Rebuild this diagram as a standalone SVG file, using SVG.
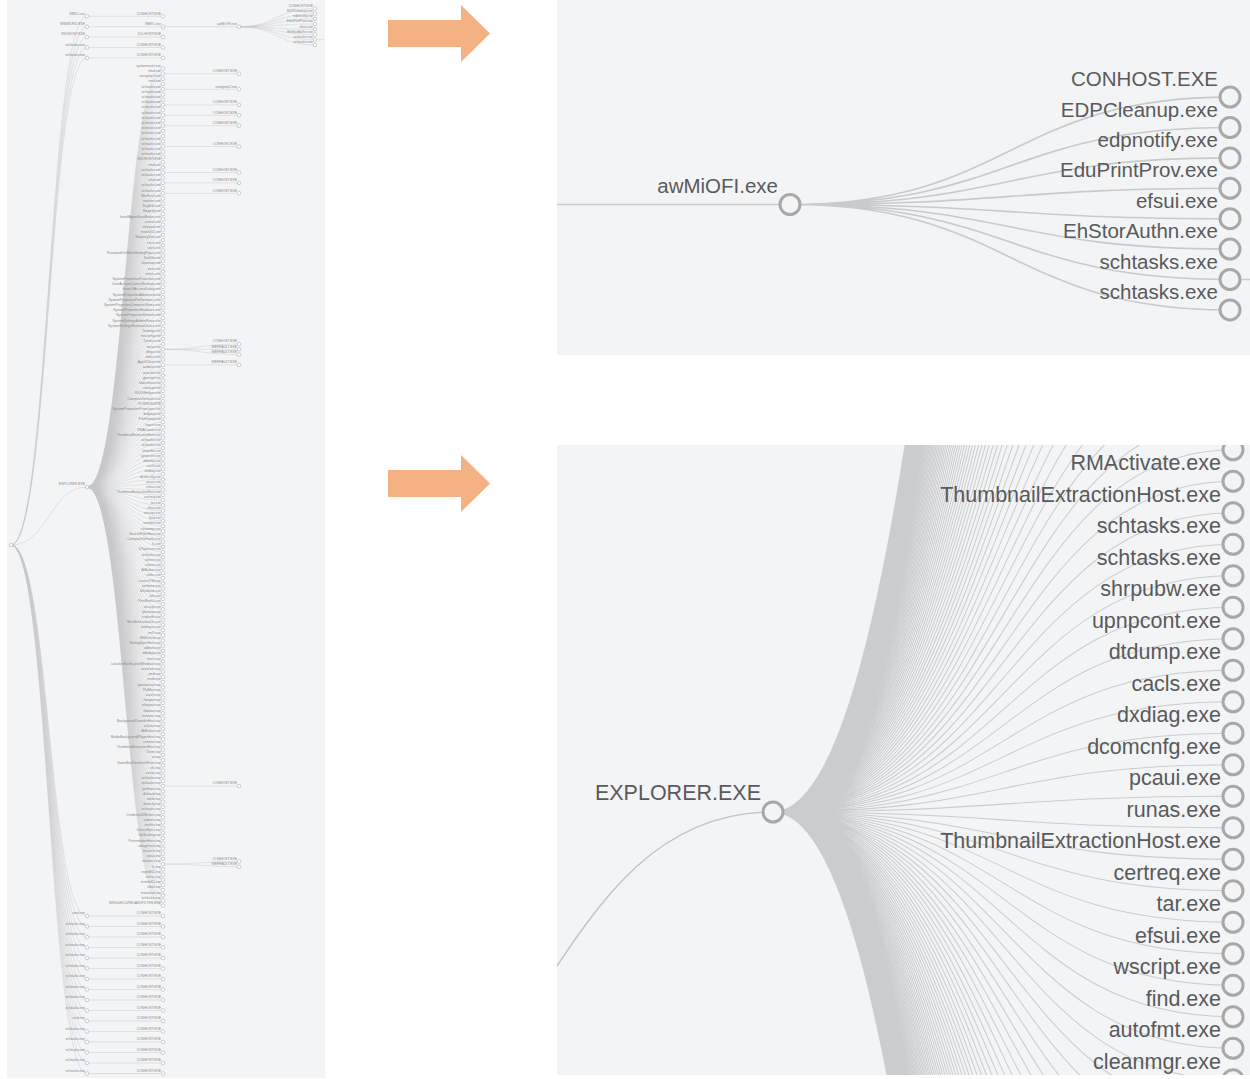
<svg xmlns="http://www.w3.org/2000/svg" xmlns:xlink="http://www.w3.org/1999/xlink" width="1250" height="1079" viewBox="0 0 1250 1079">
<style>
.bg{fill:#f3f4f6}
.lk{fill:none;stroke:#c6c8ca;stroke-width:.45}
.lkI{fill:none;stroke:#b4b6b8}
.n circle{fill:#fff;stroke:#999;stroke-width:.45}
.n text{font-family:"Liberation Sans",Arial,sans-serif;font-size:3.4px;fill:#888;text-anchor:end}
.N circle{fill:#f3f4f6;stroke:#a8a8a8;stroke-width:3}
.N text{font-family:"Liberation Sans",Arial,sans-serif;font-size:20.5px;fill:#5a5a5a;text-anchor:end}
.N2 text{font-size:21.5px}
.ar{fill:#f4b183}
</style>
<defs>
<clipPath id="c1"><rect x="557" y="0" width="693" height="355"/></clipPath>
<clipPath id="c2"><rect x="557" y="445" width="693" height="630"/></clipPath>
<path id="fanR" d="M11,545C49,545 49,16.3 87,16.3M11,545C49,545 49,26.7 87,26.7M11,545C49,545 49,37.1 87,37.1M11,545C49,545 49,47.5 87,47.5M11,545C49,545 49,57.9 87,57.9M11,545C49,545 49,487.1 87,487.1M11,545C49,545 49,916 87,916M11,545C49,545 49,926.5 87,926.5M11,545C49,545 49,937 87,937M11,545C49,545 49,947.5 87,947.5M11,545C49,545 49,958 87,958M11,545C49,545 49,968.5 87,968.5M11,545C49,545 49,979 87,979M11,545C49,545 49,989.5 87,989.5M11,545C49,545 49,1000 87,1000M11,545C49,545 49,1010.5 87,1010.5M11,545C49,545 49,1021 87,1021M11,545C49,545 49,1031.5 87,1031.5M11,545C49,545 49,1042 87,1042M11,545C49,545 49,1052.5 87,1052.5M11,545C49,545 49,1063 87,1063M11,545C49,545 49,1073.5 87,1073.5"/>
<path id="fanE" d="M87,487.1C125,487.1 125,68.5 163,68.5M87,487.1C125,487.1 125,73.7 163,73.7M87,487.1C125,487.1 125,78.9 163,78.9M87,487.1C125,487.1 125,84.1 163,84.1M87,487.1C125,487.1 125,89.3 163,89.3M87,487.1C125,487.1 125,94.5 163,94.5M87,487.1C125,487.1 125,99.7 163,99.7M87,487.1C125,487.1 125,104.9 163,104.9M87,487.1C125,487.1 125,110.1 163,110.1M87,487.1C125,487.1 125,115.3 163,115.3M87,487.1C125,487.1 125,120.5 163,120.5M87,487.1C125,487.1 125,125.7 163,125.7M87,487.1C125,487.1 125,130.9 163,130.9M87,487.1C125,487.1 125,136.1 163,136.1M87,487.1C125,487.1 125,141.3 163,141.3M87,487.1C125,487.1 125,146.5 163,146.5M87,487.1C125,487.1 125,151.7 163,151.7M87,487.1C125,487.1 125,156.9 163,156.9M87,487.1C125,487.1 125,162.1 163,162.1M87,487.1C125,487.1 125,167.3 163,167.3M87,487.1C125,487.1 125,172.5 163,172.5M87,487.1C125,487.1 125,177.7 163,177.7M87,487.1C125,487.1 125,182.9 163,182.9M87,487.1C125,487.1 125,188.1 163,188.1M87,487.1C125,487.1 125,193.3 163,193.3M87,487.1C125,487.1 125,198.5 163,198.5M87,487.1C125,487.1 125,203.7 163,203.7M87,487.1C125,487.1 125,208.9 163,208.9M87,487.1C125,487.1 125,214.1 163,214.1M87,487.1C125,487.1 125,219.3 163,219.3M87,487.1C125,487.1 125,224.5 163,224.5M87,487.1C125,487.1 125,229.7 163,229.7M87,487.1C125,487.1 125,234.9 163,234.9M87,487.1C125,487.1 125,240.1 163,240.1M87,487.1C125,487.1 125,245.3 163,245.3M87,487.1C125,487.1 125,250.5 163,250.5M87,487.1C125,487.1 125,255.7 163,255.7M87,487.1C125,487.1 125,260.9 163,260.9M87,487.1C125,487.1 125,266.1 163,266.1M87,487.1C125,487.1 125,271.3 163,271.3M87,487.1C125,487.1 125,276.5 163,276.5M87,487.1C125,487.1 125,281.7 163,281.7M87,487.1C125,487.1 125,286.9 163,286.9M87,487.1C125,487.1 125,292.1 163,292.1M87,487.1C125,487.1 125,297.3 163,297.3M87,487.1C125,487.1 125,302.5 163,302.5M87,487.1C125,487.1 125,307.7 163,307.7M87,487.1C125,487.1 125,312.9 163,312.9M87,487.1C125,487.1 125,318.1 163,318.1M87,487.1C125,487.1 125,323.3 163,323.3M87,487.1C125,487.1 125,328.5 163,328.5M87,487.1C125,487.1 125,333.7 163,333.7M87,487.1C125,487.1 125,338.9 163,338.9M87,487.1C125,487.1 125,344.1 163,344.1M87,487.1C125,487.1 125,349.3 163,349.3M87,487.1C125,487.1 125,354.5 163,354.5M87,487.1C125,487.1 125,359.7 163,359.7M87,487.1C125,487.1 125,364.9 163,364.9M87,487.1C125,487.1 125,370.1 163,370.1M87,487.1C125,487.1 125,375.3 163,375.3M87,487.1C125,487.1 125,380.5 163,380.5M87,487.1C125,487.1 125,385.7 163,385.7M87,487.1C125,487.1 125,390.9 163,390.9M87,487.1C125,487.1 125,396.1 163,396.1M87,487.1C125,487.1 125,401.3 163,401.3M87,487.1C125,487.1 125,406.5 163,406.5M87,487.1C125,487.1 125,411.7 163,411.7M87,487.1C125,487.1 125,416.9 163,416.9M87,487.1C125,487.1 125,422.1 163,422.1M87,487.1C125,487.1 125,427.3 163,427.3M87,487.1C125,487.1 125,432.5 163,432.5M87,487.1C125,487.1 125,437.7 163,437.7M87,487.1C125,487.1 125,442.9 163,442.9M87,487.1C125,487.1 125,448.1 163,448.1M87,487.1C125,487.1 125,453.3 163,453.3M87,487.1C125,487.1 125,458.5 163,458.5M87,487.1C125,487.1 125,463.7 163,463.7M87,487.1C125,487.1 125,468.9 163,468.9M87,487.1C125,487.1 125,474.1 163,474.1M87,487.1C125,487.1 125,479.3 163,479.3M87,487.1C125,487.1 125,484.5 163,484.5M87,487.1C125,487.1 125,489.7 163,489.7M87,487.1C125,487.1 125,494.9 163,494.9M87,487.1C125,487.1 125,500.1 163,500.1M87,487.1C125,487.1 125,505.3 163,505.3M87,487.1C125,487.1 125,510.5 163,510.5M87,487.1C125,487.1 125,515.7 163,515.7M87,487.1C125,487.1 125,520.9 163,520.9M87,487.1C125,487.1 125,526.1 163,526.1M87,487.1C125,487.1 125,531.3 163,531.3M87,487.1C125,487.1 125,536.5 163,536.5M87,487.1C125,487.1 125,541.7 163,541.7M87,487.1C125,487.1 125,546.9 163,546.9M87,487.1C125,487.1 125,552.1 163,552.1M87,487.1C125,487.1 125,557.3 163,557.3M87,487.1C125,487.1 125,562.5 163,562.5M87,487.1C125,487.1 125,567.7 163,567.7M87,487.1C125,487.1 125,572.9 163,572.9M87,487.1C125,487.1 125,578.1 163,578.1M87,487.1C125,487.1 125,583.3 163,583.3M87,487.1C125,487.1 125,588.5 163,588.5M87,487.1C125,487.1 125,593.7 163,593.7M87,487.1C125,487.1 125,598.9 163,598.9M87,487.1C125,487.1 125,604.1 163,604.1M87,487.1C125,487.1 125,609.3 163,609.3M87,487.1C125,487.1 125,614.5 163,614.5M87,487.1C125,487.1 125,619.7 163,619.7M87,487.1C125,487.1 125,624.9 163,624.9M87,487.1C125,487.1 125,630.1 163,630.1M87,487.1C125,487.1 125,635.3 163,635.3M87,487.1C125,487.1 125,640.5 163,640.5M87,487.1C125,487.1 125,645.7 163,645.7M87,487.1C125,487.1 125,650.9 163,650.9M87,487.1C125,487.1 125,656.1 163,656.1M87,487.1C125,487.1 125,661.3 163,661.3M87,487.1C125,487.1 125,666.5 163,666.5M87,487.1C125,487.1 125,671.7 163,671.7M87,487.1C125,487.1 125,676.9 163,676.9M87,487.1C125,487.1 125,682.1 163,682.1M87,487.1C125,487.1 125,687.3 163,687.3M87,487.1C125,487.1 125,692.5 163,692.5M87,487.1C125,487.1 125,697.7 163,697.7M87,487.1C125,487.1 125,702.9 163,702.9M87,487.1C125,487.1 125,708.1 163,708.1M87,487.1C125,487.1 125,713.3 163,713.3M87,487.1C125,487.1 125,718.5 163,718.5M87,487.1C125,487.1 125,723.7 163,723.7M87,487.1C125,487.1 125,728.9 163,728.9M87,487.1C125,487.1 125,734.1 163,734.1M87,487.1C125,487.1 125,739.3 163,739.3M87,487.1C125,487.1 125,744.5 163,744.5M87,487.1C125,487.1 125,749.7 163,749.7M87,487.1C125,487.1 125,754.9 163,754.9M87,487.1C125,487.1 125,760.1 163,760.1M87,487.1C125,487.1 125,765.3 163,765.3M87,487.1C125,487.1 125,770.5 163,770.5M87,487.1C125,487.1 125,775.7 163,775.7M87,487.1C125,487.1 125,780.9 163,780.9M87,487.1C125,487.1 125,786.1 163,786.1M87,487.1C125,487.1 125,791.3 163,791.3M87,487.1C125,487.1 125,796.5 163,796.5M87,487.1C125,487.1 125,801.7 163,801.7M87,487.1C125,487.1 125,806.9 163,806.9M87,487.1C125,487.1 125,812.1 163,812.1M87,487.1C125,487.1 125,817.3 163,817.3M87,487.1C125,487.1 125,822.5 163,822.5M87,487.1C125,487.1 125,827.7 163,827.7M87,487.1C125,487.1 125,832.9 163,832.9M87,487.1C125,487.1 125,838.1 163,838.1M87,487.1C125,487.1 125,843.3 163,843.3M87,487.1C125,487.1 125,848.5 163,848.5M87,487.1C125,487.1 125,853.7 163,853.7M87,487.1C125,487.1 125,858.9 163,858.9M87,487.1C125,487.1 125,864.1 163,864.1M87,487.1C125,487.1 125,869.3 163,869.3M87,487.1C125,487.1 125,874.5 163,874.5M87,487.1C125,487.1 125,879.7 163,879.7M87,487.1C125,487.1 125,884.9 163,884.9M87,487.1C125,487.1 125,890.1 163,890.1M87,487.1C125,487.1 125,895.3 163,895.3M87,487.1C125,487.1 125,900.5 163,900.5M87,487.1C125,487.1 125,905.7 163,905.7"/>
</defs>

<rect width="1250" height="1079" fill="#fff"/>

<g id="left-panel">
<rect class="bg" x="7" y="0" width="318" height="1078"/>
<g id="connectors" class="lk">
<use xlink:href="#fanR"/>
<use xlink:href="#fanE"/>
<path d="M87,16.3H163M87,26.7H239M87,37.1H163M87,47.5H163M87,57.9H163M87,916H163M87,926.5H163M87,937H163M87,947.5H163M87,958H163M87,968.5H163M87,979H163M87,989.5H163M87,1000H163M87,1010.5H163M87,1021H163M87,1031.5H163M87,1042H163M87,1052.5H163M87,1063H163M87,1073.5H163"/>
<path d="M239,26.7C277,26.7 277,8.5 315,8.5M239,26.7C277,26.7 277,13.7 315,13.7M239,26.7C277,26.7 277,18.9 315,18.9M239,26.7C277,26.7 277,24.1 315,24.1M239,26.7C277,26.7 277,29.3 315,29.3M239,26.7C277,26.7 277,34.5 315,34.5M239,26.7C277,26.7 277,39.7 315,39.7M239,26.7C277,26.7 277,44.9 315,44.9M315,39.7H325"/>
<path d="M163,73.7H239M163,89.3H239M163,104.9H239M163,115.3H239M163,125.7H239M163,146.5H239M163,172.5H239M163,182.9H239M163,193.3H239M163,349.3C201,349.3 201,344.1 239,344.1M163,349.3H239M163,349.3C201,349.3 201,354.5 239,354.5M163,364.9H239M163,786.1H239M163,864.1C201,864.1 201,861.5 239,861.5M163,864.1C201,864.1 201,866.7 239,866.7"/>
</g>

<g id="root" class="n"><circle cx="11" cy="545" r="1.8"/></g>
<g id="t1" class="n"><circle cx="87" cy="16.3" r="1.8"/><text x="85" y="14.5">WMIC.exe</text></g>
<g id="t2" class="n"><circle cx="87" cy="26.7" r="1.8"/><text x="85" y="24.9">WINWORD.EXE</text></g>
<g id="t3" class="n"><circle cx="87" cy="37.1" r="1.8"/><text x="85" y="35.3">SVCHOST.EXE</text></g>
<g id="t4" class="n"><circle cx="87" cy="47.5" r="1.8"/><text x="85" y="45.7">schtasks.exe</text></g>
<g id="t5" class="n"><circle cx="87" cy="57.9" r="1.8"/><text x="85" y="56.1">schtasks.exe</text></g>
<g id="t1c" class="n"><circle cx="163" cy="16.3" r="1.8"/><text x="161" y="14.5">CONHOST.EXE</text></g>
<g id="t2c" class="n"><circle cx="163" cy="26.7" r="1.8"/><text x="161" y="24.9">WMIC.exe</text></g>
<g id="t3c" class="n"><circle cx="163" cy="37.1" r="1.8"/><text x="161" y="35.3">DLLHOST.EXE</text></g>
<g id="t4c" class="n"><circle cx="163" cy="47.5" r="1.8"/><text x="161" y="45.7">CONHOST.EXE</text></g>
<g id="t5c" class="n"><circle cx="163" cy="57.9" r="1.8"/><text x="161" y="56.1">CONHOST.EXE</text></g>
<g id="awmiofi" class="n"><circle cx="239" cy="26.7" r="1.8"/><text x="237" y="24.9">awMiOFI.exe</text></g>
<g id="aw0" class="n"><circle cx="315" cy="8.5" r="1.8"/><text x="313" y="6.7">CONHOST.EXE</text></g>
<g id="aw1" class="n"><circle cx="315" cy="13.7" r="1.8"/><text x="313" y="11.9">EDPCleanup.exe</text></g>
<g id="aw2" class="n"><circle cx="315" cy="18.9" r="1.8"/><text x="313" y="17.1">edpnotify.exe</text></g>
<g id="aw3" class="n"><circle cx="315" cy="24.1" r="1.8"/><text x="313" y="22.3">EduPrintProv.exe</text></g>
<g id="aw4" class="n"><circle cx="315" cy="29.3" r="1.8"/><text x="313" y="27.5">efsui.exe</text></g>
<g id="aw5" class="n"><circle cx="315" cy="34.5" r="1.8"/><text x="313" y="32.7">EhStorAuthn.exe</text></g>
<g id="aw6" class="n"><circle cx="315" cy="39.7" r="1.8"/><text x="313" y="37.9">schtasks.exe</text></g>
<g id="aw7" class="n"><circle cx="315" cy="44.9" r="1.8"/><text x="313" y="43.1">schtasks.exe</text></g>

<g id="explorer" class="n"><circle cx="87" cy="487.1" r="1.8"/><text x="85" y="484.6">EXPLORER.EXE</text></g>
<g id="e0" class="n"><circle cx="163" cy="68.5" r="1.8"/><text x="161" y="66.7">systemreset.exe</text></g>
<g id="e1" class="n"><circle cx="163" cy="73.7" r="1.8"/><text x="161" y="71.9">cmd.exe</text></g>
<g id="e2" class="n"><circle cx="163" cy="78.9" r="1.8"/><text x="161" y="77.1">unregmp2.exe</text></g>
<g id="e3" class="n"><circle cx="163" cy="84.1" r="1.8"/><text x="161" y="82.3">cmd.exe</text></g>
<g id="e4" class="n"><circle cx="163" cy="89.3" r="1.8"/><text x="161" y="87.5">schtasks.exe</text></g>
<g id="e5" class="n"><circle cx="163" cy="94.5" r="1.8"/><text x="161" y="92.7">schtasks.exe</text></g>
<g id="e6" class="n"><circle cx="163" cy="99.7" r="1.8"/><text x="161" y="97.9">schtasks.exe</text></g>
<g id="e7" class="n"><circle cx="163" cy="104.9" r="1.8"/><text x="161" y="103.1">schtasks.exe</text></g>
<g id="e8" class="n"><circle cx="163" cy="110.1" r="1.8"/><text x="161" y="108.3">schtasks.exe</text></g>
<g id="e9" class="n"><circle cx="163" cy="115.3" r="1.8"/><text x="161" y="113.5">schtasks.exe</text></g>
<g id="e10" class="n"><circle cx="163" cy="120.5" r="1.8"/><text x="161" y="118.7">schtasks.exe</text></g>
<g id="e11" class="n"><circle cx="163" cy="125.7" r="1.8"/><text x="161" y="123.9">schtasks.exe</text></g>
<g id="e12" class="n"><circle cx="163" cy="130.9" r="1.8"/><text x="161" y="129.1">schtasks.exe</text></g>
<g id="e13" class="n"><circle cx="163" cy="136.1" r="1.8"/><text x="161" y="134.3">schtasks.exe</text></g>
<g id="e14" class="n"><circle cx="163" cy="141.3" r="1.8"/><text x="161" y="139.5">schtasks.exe</text></g>
<g id="e15" class="n"><circle cx="163" cy="146.5" r="1.8"/><text x="161" y="144.7">schtasks.exe</text></g>
<g id="e16" class="n"><circle cx="163" cy="151.7" r="1.8"/><text x="161" y="149.9">schtasks.exe</text></g>
<g id="e17" class="n"><circle cx="163" cy="156.9" r="1.8"/><text x="161" y="155.1">schtasks.exe</text></g>
<g id="e18" class="n"><circle cx="163" cy="162.1" r="1.8"/><text x="161" y="160.3">SVCHOST.EXE</text></g>
<g id="e19" class="n"><circle cx="163" cy="167.3" r="1.8"/><text x="161" y="165.5">cmd.exe</text></g>
<g id="e20" class="n"><circle cx="163" cy="172.5" r="1.8"/><text x="161" y="170.7">schtasks.exe</text></g>
<g id="e21" class="n"><circle cx="163" cy="177.7" r="1.8"/><text x="161" y="175.9">schtasks.exe</text></g>
<g id="e22" class="n"><circle cx="163" cy="182.9" r="1.8"/><text x="161" y="181.1">cmd.exe</text></g>
<g id="e23" class="n"><circle cx="163" cy="188.1" r="1.8"/><text x="161" y="186.3">schtasks.exe</text></g>
<g id="e24" class="n"><circle cx="163" cy="193.3" r="1.8"/><text x="161" y="191.5">schtasks.exe</text></g>
<g id="e25" class="n"><circle cx="163" cy="198.5" r="1.8"/><text x="161" y="196.7">WerFault.exe</text></g>
<g id="e26" class="n"><circle cx="163" cy="203.7" r="1.8"/><text x="161" y="201.9">iexplore.exe</text></g>
<g id="e27" class="n"><circle cx="163" cy="208.9" r="1.8"/><text x="161" y="207.1">RegEdit.exe</text></g>
<g id="e28" class="n"><circle cx="163" cy="214.1" r="1.8"/><text x="161" y="212.3">Magnify.exe</text></g>
<g id="e29" class="n"><circle cx="163" cy="219.3" r="1.8"/><text x="161" y="217.5">InstallAgentUserBroker.exe</text></g>
<g id="e30" class="n"><circle cx="163" cy="224.5" r="1.8"/><text x="161" y="222.7">control.exe</text></g>
<g id="e31" class="n"><circle cx="163" cy="229.7" r="1.8"/><text x="161" y="227.9">notepad.exe</text></g>
<g id="e32" class="n"><circle cx="163" cy="234.9" r="1.8"/><text x="161" y="233.1">msinfo32.exe</text></g>
<g id="e33" class="n"><circle cx="163" cy="240.1" r="1.8"/><text x="161" y="238.3">SnippingTool.exe</text></g>
<g id="e34" class="n"><circle cx="163" cy="245.3" r="1.8"/><text x="161" y="243.5">rstrui.exe</text></g>
<g id="e35" class="n"><circle cx="163" cy="250.5" r="1.8"/><text x="161" y="248.7">sdclt.exe</text></g>
<g id="e36" class="n"><circle cx="163" cy="255.7" r="1.8"/><text x="161" y="253.9">PasswordOnWakeSettingFlyout.exe</text></g>
<g id="e37" class="n"><circle cx="163" cy="260.9" r="1.8"/><text x="161" y="259.1">SndVol.exe</text></g>
<g id="e38" class="n"><circle cx="163" cy="266.1" r="1.8"/><text x="161" y="264.3">charmap.exe</text></g>
<g id="e39" class="n"><circle cx="163" cy="271.3" r="1.8"/><text x="161" y="269.5">write.exe</text></g>
<g id="e40" class="n"><circle cx="163" cy="276.5" r="1.8"/><text x="161" y="274.7">mstsc.exe</text></g>
<g id="e41" class="n"><circle cx="163" cy="281.7" r="1.8"/><text x="161" y="279.9">SystemPropertiesProtection.exe</text></g>
<g id="e42" class="n"><circle cx="163" cy="286.9" r="1.8"/><text x="161" y="285.1">UserAccountControlSettings.exe</text></g>
<g id="e43" class="n"><circle cx="163" cy="292.1" r="1.8"/><text x="161" y="290.3">EaseOfAccessDialog.exe</text></g>
<g id="e44" class="n"><circle cx="163" cy="297.3" r="1.8"/><text x="161" y="295.5">SystemPropertiesAdvanced.exe</text></g>
<g id="e45" class="n"><circle cx="163" cy="302.5" r="1.8"/><text x="161" y="300.7">SystemPropertiesPerformance.exe</text></g>
<g id="e46" class="n"><circle cx="163" cy="307.7" r="1.8"/><text x="161" y="305.9">SystemPropertiesComputerName.exe</text></g>
<g id="e47" class="n"><circle cx="163" cy="312.9" r="1.8"/><text x="161" y="311.1">SystemPropertiesHardware.exe</text></g>
<g id="e48" class="n"><circle cx="163" cy="318.1" r="1.8"/><text x="161" y="316.3">SystemPropertiesRemote.exe</text></g>
<g id="e49" class="n"><circle cx="163" cy="323.3" r="1.8"/><text x="161" y="321.5">SystemSettingsAdminFlows.exe</text></g>
<g id="e50" class="n"><circle cx="163" cy="328.5" r="1.8"/><text x="161" y="326.7">SystemSettingsRemoveDevice.exe</text></g>
<g id="e51" class="n"><circle cx="163" cy="333.7" r="1.8"/><text x="161" y="331.9">Taskmgr.exe</text></g>
<g id="e52" class="n"><circle cx="163" cy="338.9" r="1.8"/><text x="161" y="337.1">msconfig.exe</text></g>
<g id="e53" class="n"><circle cx="163" cy="344.1" r="1.8"/><text x="161" y="342.3">TpmInit.exe</text></g>
<g id="e54" class="n"><circle cx="163" cy="349.3" r="1.8"/><text x="161" y="347.5">wusa.exe</text></g>
<g id="e55" class="n"><circle cx="163" cy="354.5" r="1.8"/><text x="161" y="352.7">dfrgui.exe</text></g>
<g id="e56" class="n"><circle cx="163" cy="359.7" r="1.8"/><text x="161" y="357.9">mblctr.exe</text></g>
<g id="e57" class="n"><circle cx="163" cy="364.9" r="1.8"/><text x="161" y="363.1">AppVClient.exe</text></g>
<g id="e58" class="n"><circle cx="163" cy="370.1" r="1.8"/><text x="161" y="368.3">auditpol.exe</text></g>
<g id="e59" class="n"><circle cx="163" cy="375.3" r="1.8"/><text x="161" y="373.5">autochk.exe</text></g>
<g id="e60" class="n"><circle cx="163" cy="380.5" r="1.8"/><text x="161" y="378.7">gpscript.exe</text></g>
<g id="e61" class="n"><circle cx="163" cy="385.7" r="1.8"/><text x="161" y="383.9">bdeunlock.exe</text></g>
<g id="e62" class="n"><circle cx="163" cy="390.9" r="1.8"/><text x="161" y="389.1">colorcpl.exe</text></g>
<g id="e63" class="n"><circle cx="163" cy="396.1" r="1.8"/><text x="161" y="394.3">RDVGHelper.exe</text></g>
<g id="e64" class="n"><circle cx="163" cy="401.3" r="1.8"/><text x="161" y="399.5">ComputerDefaults.exe</text></g>
<g id="e65" class="n"><circle cx="163" cy="406.5" r="1.8"/><text x="161" y="404.7">PCWRUN.EXE</text></g>
<g id="e66" class="n"><circle cx="163" cy="411.7" r="1.8"/><text x="161" y="409.9">SystemPropertiesProtection.exe</text></g>
<g id="e67" class="n"><circle cx="163" cy="416.9" r="1.8"/><text x="161" y="415.1">dvdplay.exe</text></g>
<g id="e68" class="n"><circle cx="163" cy="422.1" r="1.8"/><text x="161" y="420.3">FileHistory.exe</text></g>
<g id="e69" class="n"><circle cx="163" cy="427.3" r="1.8"/><text x="161" y="425.5">fsquirt.exe</text></g>
<g id="e70" class="n"><circle cx="163" cy="432.5" r="1.8"/><text x="161" y="430.7">RMActivate.exe</text></g>
<g id="e71" class="n"><circle cx="163" cy="437.7" r="1.8"/><text x="161" y="435.9">ThumbnailExtractionHost.exe</text></g>
<g id="e72" class="n"><circle cx="163" cy="442.9" r="1.8"/><text x="161" y="441.1">schtasks.exe</text></g>
<g id="e73" class="n"><circle cx="163" cy="448.1" r="1.8"/><text x="161" y="446.3">schtasks.exe</text></g>
<g id="e74" class="n"><circle cx="163" cy="453.3" r="1.8"/><text x="161" y="451.5">shrpubw.exe</text></g>
<g id="e75" class="n"><circle cx="163" cy="458.5" r="1.8"/><text x="161" y="456.7">upnpcont.exe</text></g>
<g id="e76" class="n"><circle cx="163" cy="463.7" r="1.8"/><text x="161" y="461.9">dtdump.exe</text></g>
<g id="e77" class="n"><circle cx="163" cy="468.9" r="1.8"/><text x="161" y="467.1">cacls.exe</text></g>
<g id="e78" class="n"><circle cx="163" cy="474.1" r="1.8"/><text x="161" y="472.3">dxdiag.exe</text></g>
<g id="e79" class="n"><circle cx="163" cy="479.3" r="1.8"/><text x="161" y="477.5">dcomcnfg.exe</text></g>
<g id="e80" class="n"><circle cx="163" cy="484.5" r="1.8"/><text x="161" y="482.7">pcaui.exe</text></g>
<g id="e81" class="n"><circle cx="163" cy="489.7" r="1.8"/><text x="161" y="487.9">runas.exe</text></g>
<g id="e82" class="n"><circle cx="163" cy="494.9" r="1.8"/><text x="161" y="493.1">ThumbnailExtractionHost.exe</text></g>
<g id="e83" class="n"><circle cx="163" cy="500.1" r="1.8"/><text x="161" y="498.3">certreq.exe</text></g>
<g id="e84" class="n"><circle cx="163" cy="505.3" r="1.8"/><text x="161" y="503.5">tar.exe</text></g>
<g id="e85" class="n"><circle cx="163" cy="510.5" r="1.8"/><text x="161" y="508.7">efsui.exe</text></g>
<g id="e86" class="n"><circle cx="163" cy="515.7" r="1.8"/><text x="161" y="513.9">wscript.exe</text></g>
<g id="e87" class="n"><circle cx="163" cy="520.9" r="1.8"/><text x="161" y="519.1">find.exe</text></g>
<g id="e88" class="n"><circle cx="163" cy="526.1" r="1.8"/><text x="161" y="524.3">autofmt.exe</text></g>
<g id="e89" class="n"><circle cx="163" cy="531.3" r="1.8"/><text x="161" y="529.5">cleanmgr.exe</text></g>
<g id="e90" class="n"><circle cx="163" cy="536.5" r="1.8"/><text x="161" y="534.7">SearchFilterHost.exe</text></g>
<g id="e91" class="n"><circle cx="163" cy="541.7" r="1.8"/><text x="161" y="539.9">ComputerDefaults.exe</text></g>
<g id="e92" class="n"><circle cx="163" cy="546.9" r="1.8"/><text x="161" y="545.1">fc.exe</text></g>
<g id="e93" class="n"><circle cx="163" cy="552.1" r="1.8"/><text x="161" y="550.3">DXpserver.exe</text></g>
<g id="e94" class="n"><circle cx="163" cy="557.3" r="1.8"/><text x="161" y="555.5">schtasks.exe</text></g>
<g id="e95" class="n"><circle cx="163" cy="562.5" r="1.8"/><text x="161" y="560.7">winver.exe</text></g>
<g id="e96" class="n"><circle cx="163" cy="567.7" r="1.8"/><text x="161" y="565.9">cttune.exe</text></g>
<g id="e97" class="n"><circle cx="163" cy="572.9" r="1.8"/><text x="161" y="571.1">AtBroker.exe</text></g>
<g id="e98" class="n"><circle cx="163" cy="578.1" r="1.8"/><text x="161" y="576.3">sethc.exe</text></g>
<g id="e99" class="n"><circle cx="163" cy="583.3" r="1.8"/><text x="161" y="581.5">LaunchTM.exe</text></g>
<g id="e100" class="n"><circle cx="163" cy="588.5" r="1.8"/><text x="161" y="586.7">perfmon.exe</text></g>
<g id="e101" class="n"><circle cx="163" cy="593.7" r="1.8"/><text x="161" y="591.9">bthudtask.exe</text></g>
<g id="e102" class="n"><circle cx="163" cy="598.9" r="1.8"/><text x="161" y="597.1">wfs.exe</text></g>
<g id="e103" class="n"><circle cx="163" cy="604.1" r="1.8"/><text x="161" y="602.3">PrintBrmUi.exe</text></g>
<g id="e104" class="n"><circle cx="163" cy="609.3" r="1.8"/><text x="161" y="607.5">iscsicpl.exe</text></g>
<g id="e105" class="n"><circle cx="163" cy="614.5" r="1.8"/><text x="161" y="612.7">lpksetup.exe</text></g>
<g id="e106" class="n"><circle cx="163" cy="619.7" r="1.8"/><text x="161" y="617.9">eudcedit.exe</text></g>
<g id="e107" class="n"><circle cx="163" cy="624.9" r="1.8"/><text x="161" y="623.1">MusNotificationUx.exe</text></g>
<g id="e108" class="n"><circle cx="163" cy="630.1" r="1.8"/><text x="161" y="628.3">mobsync.exe</text></g>
<g id="e109" class="n"><circle cx="163" cy="635.3" r="1.8"/><text x="161" y="633.5">net1.exe</text></g>
<g id="e110" class="n"><circle cx="163" cy="640.5" r="1.8"/><text x="161" y="638.7">MdSched.exe</text></g>
<g id="e111" class="n"><circle cx="163" cy="645.7" r="1.8"/><text x="161" y="643.9">SettingSyncHost.exe</text></g>
<g id="e112" class="n"><circle cx="163" cy="650.9" r="1.8"/><text x="161" y="649.1">sdbinst.exe</text></g>
<g id="e113" class="n"><circle cx="163" cy="656.1" r="1.8"/><text x="161" y="654.3">ddodiag.exe</text></g>
<g id="e114" class="n"><circle cx="163" cy="661.3" r="1.8"/><text x="161" y="659.5">msra.exe</text></g>
<g id="e115" class="n"><circle cx="163" cy="666.5" r="1.8"/><text x="161" y="664.7">LocationNotificationWindows.exe</text></g>
<g id="e116" class="n"><circle cx="163" cy="671.7" r="1.8"/><text x="161" y="669.9">eventvwr.exe</text></g>
<g id="e117" class="n"><circle cx="163" cy="676.9" r="1.8"/><text x="161" y="675.1">cmd.exe</text></g>
<g id="e118" class="n"><circle cx="163" cy="682.1" r="1.8"/><text x="161" y="680.3">msdt.exe</text></g>
<g id="e119" class="n"><circle cx="163" cy="687.3" r="1.8"/><text x="161" y="685.5">quickassist.exe</text></g>
<g id="e120" class="n"><circle cx="163" cy="692.5" r="1.8"/><text x="161" y="690.7">PktMon.exe</text></g>
<g id="e121" class="n"><circle cx="163" cy="697.7" r="1.8"/><text x="161" y="695.9">icacls.exe</text></g>
<g id="e122" class="n"><circle cx="163" cy="702.9" r="1.8"/><text x="161" y="701.1">fsmgmt.exe</text></g>
<g id="e123" class="n"><circle cx="163" cy="708.1" r="1.8"/><text x="161" y="706.3">rekeywiz.exe</text></g>
<g id="e124" class="n"><circle cx="163" cy="713.3" r="1.8"/><text x="161" y="711.5">hdwwiz.exe</text></g>
<g id="e125" class="n"><circle cx="163" cy="718.5" r="1.8"/><text x="161" y="716.7">msiexec.exe</text></g>
<g id="e126" class="n"><circle cx="163" cy="723.7" r="1.8"/><text x="161" y="721.9">BackgroundTransferHost.exe</text></g>
<g id="e127" class="n"><circle cx="163" cy="728.9" r="1.8"/><text x="161" y="727.1">ie4uinit.exe</text></g>
<g id="e128" class="n"><circle cx="163" cy="734.1" r="1.8"/><text x="161" y="732.3">AtBroker.exe</text></g>
<g id="e129" class="n"><circle cx="163" cy="739.3" r="1.8"/><text x="161" y="737.5">MediaBackgroundPlayerHost.exe</text></g>
<g id="e130" class="n"><circle cx="163" cy="744.5" r="1.8"/><text x="161" y="742.7">resmon.exe</text></g>
<g id="e131" class="n"><circle cx="163" cy="749.7" r="1.8"/><text x="161" y="747.9">ThumbnailExtractionHost.exe</text></g>
<g id="e132" class="n"><circle cx="163" cy="754.9" r="1.8"/><text x="161" y="753.1">Dism.exe</text></g>
<g id="e133" class="n"><circle cx="163" cy="760.1" r="1.8"/><text x="161" y="758.3">at.exe</text></g>
<g id="e134" class="n"><circle cx="163" cy="765.3" r="1.8"/><text x="161" y="763.5">GameBarPresenceWriter.exe</text></g>
<g id="e135" class="n"><circle cx="163" cy="770.5" r="1.8"/><text x="161" y="768.7">sfc.exe</text></g>
<g id="e136" class="n"><circle cx="163" cy="775.7" r="1.8"/><text x="161" y="773.9">cmstp.exe</text></g>
<g id="e137" class="n"><circle cx="163" cy="780.9" r="1.8"/><text x="161" y="779.1">schtasks.exe</text></g>
<g id="e138" class="n"><circle cx="163" cy="786.1" r="1.8"/><text x="161" y="784.3">schtasks.exe</text></g>
<g id="e139" class="n"><circle cx="163" cy="791.3" r="1.8"/><text x="161" y="789.5">perfmon.exe</text></g>
<g id="e140" class="n"><circle cx="163" cy="796.5" r="1.8"/><text x="161" y="794.7">diskraid.exe</text></g>
<g id="e141" class="n"><circle cx="163" cy="801.7" r="1.8"/><text x="161" y="799.9">attrib.exe</text></g>
<g id="e142" class="n"><circle cx="163" cy="806.9" r="1.8"/><text x="161" y="805.1">bootcfg.exe</text></g>
<g id="e143" class="n"><circle cx="163" cy="812.1" r="1.8"/><text x="161" y="810.3">schtasks.exe</text></g>
<g id="e144" class="n"><circle cx="163" cy="817.3" r="1.8"/><text x="161" y="815.5">CredentialUIBroker.exe</text></g>
<g id="e145" class="n"><circle cx="163" cy="822.5" r="1.8"/><text x="161" y="820.7">isoburn.exe</text></g>
<g id="e146" class="n"><circle cx="163" cy="827.7" r="1.8"/><text x="161" y="825.9">verifier.exe</text></g>
<g id="e147" class="n"><circle cx="163" cy="832.9" r="1.8"/><text x="161" y="831.1">DeviceEject.exe</text></g>
<g id="e148" class="n"><circle cx="163" cy="838.1" r="1.8"/><text x="161" y="836.3">DpiScaling.exe</text></g>
<g id="e149" class="n"><circle cx="163" cy="843.3" r="1.8"/><text x="161" y="841.5">PresentationHost.exe</text></g>
<g id="e150" class="n"><circle cx="163" cy="848.5" r="1.8"/><text x="161" y="846.7">sdiagnhost.exe</text></g>
<g id="e151" class="n"><circle cx="163" cy="853.7" r="1.8"/><text x="161" y="851.9">wuauclt.exe</text></g>
<g id="e152" class="n"><circle cx="163" cy="858.9" r="1.8"/><text x="161" y="857.1">wusa.exe</text></g>
<g id="e153" class="n"><circle cx="163" cy="864.1" r="1.8"/><text x="161" y="862.3">wextract.exe</text></g>
<g id="e154" class="n"><circle cx="163" cy="869.3" r="1.8"/><text x="161" y="867.5">fc.exe</text></g>
<g id="e155" class="n"><circle cx="163" cy="874.5" r="1.8"/><text x="161" y="872.7">regedt32.exe</text></g>
<g id="e156" class="n"><circle cx="163" cy="879.7" r="1.8"/><text x="161" y="877.9">mstsc.exe</text></g>
<g id="e157" class="n"><circle cx="163" cy="884.9" r="1.8"/><text x="161" y="883.1">msinfo32.exe</text></g>
<g id="e158" class="n"><circle cx="163" cy="890.1" r="1.8"/><text x="161" y="888.3">label.exe</text></g>
<g id="e159" class="n"><circle cx="163" cy="895.3" r="1.8"/><text x="161" y="893.5">mountvol.exe</text></g>
<g id="e160" class="n"><circle cx="163" cy="900.5" r="1.8"/><text x="161" y="898.7">schtasks.exe</text></g>
<g id="e161" class="n"><circle cx="163" cy="905.7" r="1.8"/><text x="161" y="903.9">BRIDGECLIPBOARDFILTER.EXE</text></g>

<g id="e1a" class="n"><circle cx="239" cy="73.7" r="1.8"/><text x="237" y="71.9">CONHOST.EXE</text></g>
<g id="e4a" class="n"><circle cx="239" cy="89.3" r="1.8"/><text x="237" y="87.5">unregmp2.exe</text></g>
<g id="e7a" class="n"><circle cx="239" cy="104.9" r="1.8"/><text x="237" y="103.1">CONHOST.EXE</text></g>
<g id="e9a" class="n"><circle cx="239" cy="115.3" r="1.8"/><text x="237" y="113.5">CONHOST.EXE</text></g>
<g id="e11a" class="n"><circle cx="239" cy="125.7" r="1.8"/><text x="237" y="123.9">CONHOST.EXE</text></g>
<g id="e15a" class="n"><circle cx="239" cy="146.5" r="1.8"/><text x="237" y="144.7">CONHOST.EXE</text></g>
<g id="e20a" class="n"><circle cx="239" cy="172.5" r="1.8"/><text x="237" y="170.7">CONHOST.EXE</text></g>
<g id="e22a" class="n"><circle cx="239" cy="182.9" r="1.8"/><text x="237" y="181.1">CONHOST.EXE</text></g>
<g id="e24a" class="n"><circle cx="239" cy="193.3" r="1.8"/><text x="237" y="191.5">CONHOST.EXE</text></g>
<g id="e54a" class="n"><circle cx="239" cy="344.1" r="1.8"/><text x="237" y="342.3">CONHOST.EXE</text></g>
<g id="e54b" class="n"><circle cx="239" cy="349.3" r="1.8"/><text x="237" y="347.5">WERFAULT.EXE</text></g>
<g id="e54c" class="n"><circle cx="239" cy="354.5" r="1.8"/><text x="237" y="352.7">WERFAULT.EXE</text></g>
<g id="e57a" class="n"><circle cx="239" cy="364.9" r="1.8"/><text x="237" y="363.1">WERFAULT.EXE</text></g>
<g id="e138a" class="n"><circle cx="239" cy="786.1" r="1.8"/><text x="237" y="784.3">CONHOST.EXE</text></g>
<g id="e153a" class="n"><circle cx="239" cy="861.5" r="1.8"/><text x="237" y="859.7">CONHOST.EXE</text></g>
<g id="e153b" class="n"><circle cx="239" cy="866.7" r="1.8"/><text x="237" y="864.9">WERFAULT.EXE</text></g>

<g id="b1" class="n"><circle cx="87" cy="916" r="1.8"/><text x="85" y="914.2">cmd.exe</text></g>
<g id="b2" class="n"><circle cx="87" cy="926.5" r="1.8"/><text x="85" y="924.7">schtasks.exe</text></g>
<g id="b3" class="n"><circle cx="87" cy="937" r="1.8"/><text x="85" y="935.2">schtasks.exe</text></g>
<g id="b4" class="n"><circle cx="87" cy="947.5" r="1.8"/><text x="85" y="945.7">schtasks.exe</text></g>
<g id="b5" class="n"><circle cx="87" cy="958" r="1.8"/><text x="85" y="956.2">schtasks.exe</text></g>
<g id="b6" class="n"><circle cx="87" cy="968.5" r="1.8"/><text x="85" y="966.7">schtasks.exe</text></g>
<g id="b7" class="n"><circle cx="87" cy="979" r="1.8"/><text x="85" y="977.2">schtasks.exe</text></g>
<g id="b8" class="n"><circle cx="87" cy="989.5" r="1.8"/><text x="85" y="987.7">schtasks.exe</text></g>
<g id="b9" class="n"><circle cx="87" cy="1000" r="1.8"/><text x="85" y="998.2">schtasks.exe</text></g>
<g id="b10" class="n"><circle cx="87" cy="1010.5" r="1.8"/><text x="85" y="1008.7">schtasks.exe</text></g>
<g id="b11" class="n"><circle cx="87" cy="1021" r="1.8"/><text x="85" y="1019.2">cmd.exe</text></g>
<g id="b12" class="n"><circle cx="87" cy="1031.5" r="1.8"/><text x="85" y="1029.7">schtasks.exe</text></g>
<g id="b13" class="n"><circle cx="87" cy="1042" r="1.8"/><text x="85" y="1040.2">schtasks.exe</text></g>
<g id="b14" class="n"><circle cx="87" cy="1052.5" r="1.8"/><text x="85" y="1050.7">schtasks.exe</text></g>
<g id="b15" class="n"><circle cx="87" cy="1063" r="1.8"/><text x="85" y="1061.2">schtasks.exe</text></g>
<g id="b16" class="n"><circle cx="87" cy="1073.5" r="1.8"/><text x="85" y="1071.7">schtasks.exe</text></g>
<g id="b1c" class="n"><circle cx="163" cy="916" r="1.8"/><text x="161" y="914.2">CONHOST.EXE</text></g>
<g id="b2c" class="n"><circle cx="163" cy="926.5" r="1.8"/><text x="161" y="924.7">CONHOST.EXE</text></g>
<g id="b3c" class="n"><circle cx="163" cy="937" r="1.8"/><text x="161" y="935.2">CONHOST.EXE</text></g>
<g id="b4c" class="n"><circle cx="163" cy="947.5" r="1.8"/><text x="161" y="945.7">CONHOST.EXE</text></g>
<g id="b5c" class="n"><circle cx="163" cy="958" r="1.8"/><text x="161" y="956.2">CONHOST.EXE</text></g>
<g id="b6c" class="n"><circle cx="163" cy="968.5" r="1.8"/><text x="161" y="966.7">CONHOST.EXE</text></g>
<g id="b7c" class="n"><circle cx="163" cy="979" r="1.8"/><text x="161" y="977.2">CONHOST.EXE</text></g>
<g id="b8c" class="n"><circle cx="163" cy="989.5" r="1.8"/><text x="161" y="987.7">CONHOST.EXE</text></g>
<g id="b9c" class="n"><circle cx="163" cy="1000" r="1.8"/><text x="161" y="998.2">CONHOST.EXE</text></g>
<g id="b10c" class="n"><circle cx="163" cy="1010.5" r="1.8"/><text x="161" y="1008.7">CONHOST.EXE</text></g>
<g id="b11c" class="n"><circle cx="163" cy="1021" r="1.8"/><text x="161" y="1019.2">CONHOST.EXE</text></g>
<g id="b12c" class="n"><circle cx="163" cy="1031.5" r="1.8"/><text x="161" y="1029.7">CONHOST.EXE</text></g>
<g id="b13c" class="n"><circle cx="163" cy="1042" r="1.8"/><text x="161" y="1040.2">CONHOST.EXE</text></g>
<g id="b14c" class="n"><circle cx="163" cy="1052.5" r="1.8"/><text x="161" y="1050.7">CONHOST.EXE</text></g>
<g id="b15c" class="n"><circle cx="163" cy="1063" r="1.8"/><text x="161" y="1061.2">CONHOST.EXE</text></g>
<g id="b16c" class="n"><circle cx="163" cy="1073.5" r="1.8"/><text x="161" y="1071.7">CONHOST.EXE</text></g>
</g>

<g id="arrows">
<polygon class="ar" points="388,20 461,20 461,5 490,33.5 461,62 461,47 388,47"/>
<polygon class="ar" points="388,470 461,470 461,455 490,483.5 461,512 461,497 388,497"/>
</g>

<g id="inset-awmiofi" clip-path="url(#c1)">
<rect class="bg" x="557" y="0" width="693" height="355"/>
<g id="inset1-connectors" class="lkI" style="stroke:#c8cacc;stroke-width:1.6">
<path d="M557,204.5H790"/>
<path d="M790,204.5C1010,204.5 1010,97.1 1230,97.1M790,204.5C1010,204.5 1010,127.5 1230,127.5M790,204.5C1010,204.5 1010,157.9 1230,157.9M790,204.5C1010,204.5 1010,188.3 1230,188.3M790,204.5C1010,204.5 1010,218.7 1230,218.7M790,204.5C1010,204.5 1010,249.1 1230,249.1M790,204.5C1010,204.5 1010,279.5 1230,279.5M790,204.5C1010,204.5 1010,309.9 1230,309.9M1230,279.5H1250"/>
</g>
<g id="i1-awmiofi" class="N"><circle cx="790" cy="204.5" r="10"/><text x="778" y="193">awMiOFI.exe</text></g>
<g id="i1-k0" class="N"><circle cx="1230" cy="97.1" r="10"/><text x="1218" y="86">CONHOST.EXE</text></g>
<g id="i1-k1" class="N"><circle cx="1230" cy="127.5" r="10"/><text x="1218" y="116.5">EDPCleanup.exe</text></g>
<g id="i1-k2" class="N"><circle cx="1230" cy="157.9" r="10"/><text x="1218" y="147">edpnotify.exe</text></g>
<g id="i1-k3" class="N"><circle cx="1230" cy="188.3" r="10"/><text x="1218" y="177.3">EduPrintProv.exe</text></g>
<g id="i1-k4" class="N"><circle cx="1230" cy="218.7" r="10"/><text x="1218" y="207.7">efsui.exe</text></g>
<g id="i1-k5" class="N"><circle cx="1230" cy="249.1" r="10"/><text x="1218" y="238.1">EhStorAuthn.exe</text></g>
<g id="i1-k6" class="N"><circle cx="1230" cy="279.5" r="10"/><text x="1218" y="268.5">schtasks.exe</text></g>
<g id="i1-k7" class="N"><circle cx="1230" cy="309.9" r="10"/><text x="1218" y="298.9">schtasks.exe</text></g>
</g>

<g id="inset-explorer" clip-path="url(#c2)">
<rect class="bg" x="557" y="445" width="693" height="630"/>
<g id="inset2-connectors" class="lkI" transform="matrix(6.0577 0 0 6.0577 245.98 -2138.7)" style="stroke-width:.17;stroke:#a9abad;stroke-opacity:.55">
<use xlink:href="#fanR" style="stroke:#c0c2c4;stroke-opacity:1;stroke-width:.22"/>
<use xlink:href="#fanE"/>
</g>
<g id="i2-explorer" class="N N2"><circle cx="773" cy="812" r="10"/><text x="761" y="800">EXPLORER.EXE</text></g>
<g id="i2-e69" class="N N2"><circle cx="1233" cy="449.75" r="10"/></g>
<g id="i2-e70" class="N N2"><circle cx="1233" cy="481.25" r="10"/><text x="1221" y="470">RMActivate.exe</text></g>
<g id="i2-e71" class="N N2"><circle cx="1233" cy="512.75" r="10"/><text x="1221" y="501.5">ThumbnailExtractionHost.exe</text></g>
<g id="i2-e72" class="N N2"><circle cx="1233" cy="544.25" r="10"/><text x="1221" y="533">schtasks.exe</text></g>
<g id="i2-e73" class="N N2"><circle cx="1233" cy="575.75" r="10"/><text x="1221" y="564.5">schtasks.exe</text></g>
<g id="i2-e74" class="N N2"><circle cx="1233" cy="607.25" r="10"/><text x="1221" y="596">shrpubw.exe</text></g>
<g id="i2-e75" class="N N2"><circle cx="1233" cy="638.75" r="10"/><text x="1221" y="627.5">upnpcont.exe</text></g>
<g id="i2-e76" class="N N2"><circle cx="1233" cy="670.25" r="10"/><text x="1221" y="659">dtdump.exe</text></g>
<g id="i2-e77" class="N N2"><circle cx="1233" cy="701.75" r="10"/><text x="1221" y="690.5">cacls.exe</text></g>
<g id="i2-e78" class="N N2"><circle cx="1233" cy="733.25" r="10"/><text x="1221" y="722">dxdiag.exe</text></g>
<g id="i2-e79" class="N N2"><circle cx="1233" cy="764.75" r="10"/><text x="1221" y="753.5">dcomcnfg.exe</text></g>
<g id="i2-e80" class="N N2"><circle cx="1233" cy="796.25" r="10"/><text x="1221" y="785">pcaui.exe</text></g>
<g id="i2-e81" class="N N2"><circle cx="1233" cy="827.75" r="10"/><text x="1221" y="816.5">runas.exe</text></g>
<g id="i2-e82" class="N N2"><circle cx="1233" cy="859.25" r="10"/><text x="1221" y="848">ThumbnailExtractionHost.exe</text></g>
<g id="i2-e83" class="N N2"><circle cx="1233" cy="890.75" r="10"/><text x="1221" y="879.5">certreq.exe</text></g>
<g id="i2-e84" class="N N2"><circle cx="1233" cy="922.25" r="10"/><text x="1221" y="911">tar.exe</text></g>
<g id="i2-e85" class="N N2"><circle cx="1233" cy="953.75" r="10"/><text x="1221" y="942.5">efsui.exe</text></g>
<g id="i2-e86" class="N N2"><circle cx="1233" cy="985.25" r="10"/><text x="1221" y="974">wscript.exe</text></g>
<g id="i2-e87" class="N N2"><circle cx="1233" cy="1016.75" r="10"/><text x="1221" y="1005.5">find.exe</text></g>
<g id="i2-e88" class="N N2"><circle cx="1233" cy="1048.25" r="10"/><text x="1221" y="1037">autofmt.exe</text></g>
<g id="i2-e89" class="N N2"><circle cx="1233" cy="1079.75" r="10"/><text x="1221" y="1068.5">cleanmgr.exe</text></g>
</g>
</svg>
